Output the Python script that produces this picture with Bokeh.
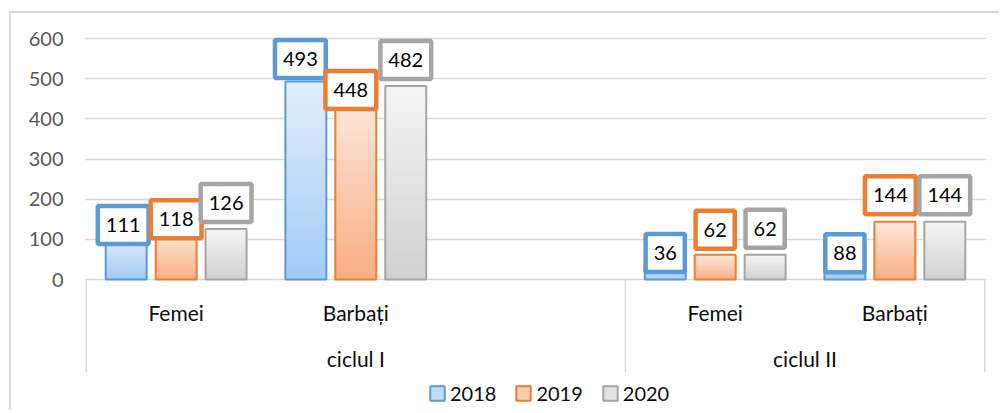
from bokeh.plotting import figure
from bokeh.models import FactorRange, Range1d, ColumnDataSource, FixedTicker, Legend, LegendItem
from bokeh.transform import dodge
from bokeh.core.properties import value
from bokeh.embed import file_html
from bokeh.resources import INLINE

# ---------------- data ----------------
cycles = ["ciclul I", "ciclul II"]
genders = ["Femei", "Barbați"]
years = ["2018", "2019", "2020"]
v2018 = [111, 493, 36, 88]     # (ciclul I: Femei, Barbați), (ciclul II: Femei, Barbați)
v2019 = [118, 448, 62, 144]
v2020 = [126, 482, 62, 144]
y_ticks = [0, 100, 200, 300, 400, 500, 600]

# ---------------- style ----------------
FONT = "Lato"
line_colors = ["#5B9BD5", "#ED7D31", "#A5A5A5"]
top_colors = ["#E2EEFA", "#FDE8DC", "#F5F5F5"]
bottom_colors = ["#A0CBF6", "#F8AD82", "#D0D0D0"]
grid_color = "#D9D9D9"
offsets = [-0.278, 0.0, 0.278]
bar_w = 0.228
# label nudges in px (dx right, dy up from bar top)
label_dx = [[-3, -5.5, 0, 0], [0, -5, 0, -4.5], [0, 0, 0, 0]]
label_dy = [[10, 22.5, 12, -9], [13, 9.5, 25, 26.5], [26, 26, 26, 26.5]]

series = [v2018, v2019, v2020]
keys = [(c, g) for c in cycles for g in genders]
factors = [(cycles[0], genders[0]), (cycles[0], genders[1]), (cycles[0], " "),
           (cycles[1], genders[0]), (cycles[1], genders[1])]

x_range = FactorRange(factors=factors, range_padding=0.01, range_padding_units="absolute",
                      factor_padding=0, group_padding=0, subgroup_padding=0)
y_range = Range1d(-331, 640)

p = figure(width=990, height=399, x_range=x_range, y_range=y_range,
           output_backend="svg", toolbar_location=None,
           min_border_left=73, min_border_right=15, min_border_top=9, min_border_bottom=0,
           styles={"margin-left": "9px", "margin-top": "11px",
                   "border-left": "2px solid #D9D9D9", "border-top": "2px solid #D9D9D9"})
p.outline_line_color = None
p.background_fill_color = "white"
p.border_fill_color = "white"

p.xaxis.visible = False
p.xgrid.visible = False
p.ygrid.ticker = FixedTicker(ticks=y_ticks)
p.ygrid.grid_line_color = grid_color
p.ygrid.grid_line_width = 1.5

ax = p.yaxis[0]
ax.ticker = FixedTicker(ticks=y_ticks)
ax.axis_line_color = None
ax.major_tick_line_color = None
ax.minor_tick_line_color = None
ax.major_tick_out = 0
ax.major_tick_in = 0
ax.major_label_standoff = 21
ax.major_label_text_font = FONT
ax.major_label_text_font_size = "20px"
ax.major_label_text_color = "#595959"


def hex2rgb(h):
    h = h.lstrip("#")
    return tuple(int(h[i:i + 2], 16) for i in (0, 2, 4))


def mix(c0, c1, t):
    a, b = hex2rgb(c0), hex2rgb(c1)
    return "#%02x%02x%02x" % tuple(round(a[i] + (b[i] - a[i]) * t) for i in range(3))


N = 30
# strip order starts at the middle strip so that index 0 carries the mid colour (used by the legend)
strip_order = list(range(N // 2, N)) + list(range(0, N // 2))
strip_renderers = []
# gradient strips
for s, vals in enumerate(series):
    xs, bots, tops, cols = [], [], [], []
    for k, v in zip(keys, vals):
        for j in strip_order:
            xs.append(k)
            bots.append(v * j / N)
            tops.append(v * (j + 1) / N)
            cols.append(mix(bottom_colors[s], top_colors[s], (j + 0.5) / N))
    src = ColumnDataSource(dict(x=xs, bottom=bots, top=tops, color=cols))
    r = p.vbar(x=dodge("x", offsets[s], range=p.x_range), bottom="bottom", top="top", width=bar_w,
               fill_color="color", line_color="color", line_width=1, source=src)
    strip_renderers.append(r)

# outlines
outline_renderers = []
for s, vals in enumerate(series):
    src = ColumnDataSource(dict(x=keys, top=vals))
    r = p.vbar(x=dodge("x", offsets[s], range=p.x_range), top="top", bottom=0, width=bar_w,
               fill_color=None, line_color=line_colors[s], line_width=2, source=src)
    outline_renderers.append(r)

# category separators (below axis)
sep_x = [0, 3, 5]
p.segment(x0=sep_x, y0=[0] * 3, x1=sep_x, y1=[-231.5] * 3, line_color=grid_color, line_width=1.5)

# category labels
p.text(x=keys, y=[-82] * len(keys), text=[k[1] for k in keys], text_align="center",
       text_baseline="middle", text_font=value(FONT), text_font_size="21px", text_color="#0d0d0d")
p.text(x=cycles, y=[-197] * len(cycles), text=cycles, text_align="center",
       text_baseline="middle", text_font=value(FONT), text_font_size="21px", text_color="#0d0d0d")

# data labels
for s, vals in enumerate(series):
    src = ColumnDataSource(dict(x=keys, y=vals, label=[str(v) for v in vals],
                                dx=label_dx[s], dy=[-d for d in label_dy[s]]))
    p.text(x=dodge("x", offsets[s], range=p.x_range), y="y", text="label",
           x_offset="dx", y_offset="dy", source=src,
           text_align="center", text_baseline="middle", text_font=value(FONT),
           text_font_size="20px", text_color="#000000",
           background_fill_color="white", border_line_color=line_colors[s],
           border_line_width=4.5, padding=dict(left=8, right=8, top=12, bottom=12))

# legend
items = []
for s, y in enumerate(years):
    items.append(LegendItem(label=y, renderers=[strip_renderers[s], outline_renderers[s]], index=0))
legend = Legend(items=items, orientation="horizontal", location=(344, 7),
                glyph_width=18, glyph_height=18, label_standoff=4, spacing=18,
                padding=0, margin=0, border_line_color=None, background_fill_alpha=0,
                label_text_font=FONT, label_text_font_size="20px", label_text_color="#0d0d0d",
                label_height=20)
p.add_layout(legend)

open("out.html", "w").write(file_html(p, INLINE))
